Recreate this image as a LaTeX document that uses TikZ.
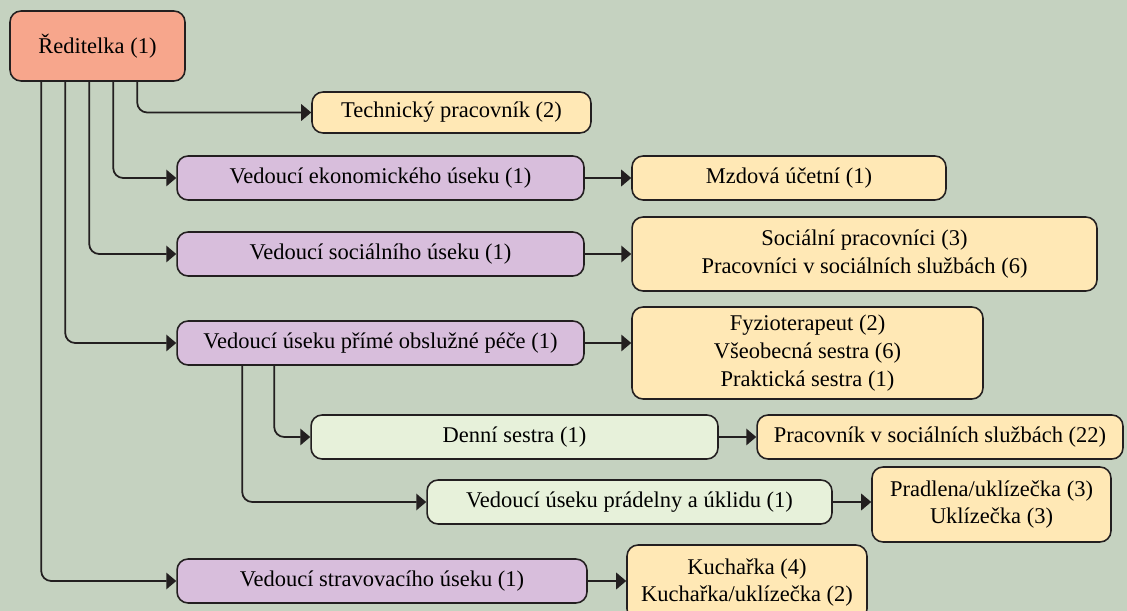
\documentclass[tikz,border=0pt]{standalone}
\usepackage{fontspec}
\setmainfont{Liberation Serif}
\usetikzlibrary{arrows.meta}

\definecolor{orgbg}{RGB}{197,210,192}
\definecolor{orgline}{RGB}{35,31,32}
\definecolor{headfill}{RGB}{247,166,140}
\definecolor{deptfill}{RGB}{216,190,220}
\definecolor{stafffill}{RGB}{255,232,181}
\definecolor{subfill}{RGB}{231,241,218}

\tikzset{
	unit/.style={draw=orgline, line width=0.9pt, rounded corners=0.22cm, align=center,
		inner sep=2pt, font=\fontsize{12.8}{15.8}\selectfont},
	head/.style={unit, fill=headfill},
	dept/.style={unit, fill=deptfill, minimum width=8.14cm, minimum height=0.88cm},
	staff/.style={unit, fill=stafffill},
	sub/.style={unit, fill=subfill, minimum height=0.88cm},
	link/.style={draw=orgline, line width=1pt, rounded corners=0.2cm,
		-{Triangle[length=2mm,width=3.3mm]}},
}

\begin{document}
\begin{tikzpicture}[x=0.02cm, y=-0.02cm]
	\fill[orgbg] (0,0) rectangle (1127,611);
	\clip (0,0) rectangle (1127,611);

	\node[head, minimum width=3.5cm, minimum height=1.4cm] (root) at (97.5,46) {Ředitelka (1)};
	\node[staff, minimum width=5.58cm, minimum height=0.82cm] (tech) at (451.5,112.5) {Technický pracovník (2)};

	\node[dept] (ekon) at (380.5,178) {Vedoucí ekonomického úseku (1)};
	\node[staff, minimum width=6.28cm, minimum height=0.88cm] (mzda) at (789,178) {Mzdová účetní (1)};

	\node[dept] (soc) at (380.5,254) {Vedoucí sociálního úseku (1)};
	\node[staff, minimum width=9.3cm, minimum height=1.48cm] (socst) at (864.5,254) {Sociální pracovníci (3)\\Pracovníci v sociálních službách (6)};

	\node[dept] (prime) at (380.5,343) {Vedoucí úseku přímé obslužné péče (1)};
	\node[staff, minimum width=7.02cm, minimum height=1.84cm] (pece) at (807.5,353) {Fyzioterapeut (2)\\Všeobecná sestra (6)\\Praktická sestra (1)};

	\node[sub, minimum width=8.14cm] (denni) at (514.5,437) {Denní sestra (1)};
	\node[staff, minimum width=7.32cm, minimum height=0.88cm] (prac) at (940,437) {Pracovník v sociálních službách (22)};

	\node[sub, minimum width=8.1cm] (prad) at (629.5,502) {Vedoucí úseku prádelny a úklidu (1)};
	\node[staff, minimum width=4.78cm, minimum height=1.5cm] (uklid) at (991.5,504.5) {Pradlena/uklízečka (3)\\Uklízečka (3)};

	\node[dept, minimum width=8.2cm] (strav) at (382,581) {Vedoucí stravovacího úseku (1)};
	\node[staff, minimum width=4.8cm, minimum height=1.5cm] (kuch) at (747,582.5) {Kuchařka (4)\\Kuchařka/uklízečka (2)};

	\draw[link] ([xshift=2.56cm]root.south west) |- (tech);
	\draw[link] ([xshift=2.08cm]root.south west) |- (ekon);
	\draw[link] ([xshift=1.6cm]root.south west) |- (soc);
	\draw[link] ([xshift=1.12cm]root.south west) |- (prime);
	\draw[link] ([xshift=0.64cm]root.south west) |- (strav);

	\draw[link] ([xshift=1.96cm]prime.south west) |- (denni);
	\draw[link] ([xshift=1.32cm]prime.south west) |- (prad);

	\draw[link] (ekon) -- (mzda);
	\draw[link] (soc) -- (socst);
	\draw[link] (prime.east) -- (prime.east -| pece.west);
	\draw[link] (denni) -- (prac);
	\draw[link] (prad.east) -- (prad.east -| uklid.west);
	\draw[link] (strav.east) -- (strav.east -| kuch.west);
\end{tikzpicture}
\end{document}
